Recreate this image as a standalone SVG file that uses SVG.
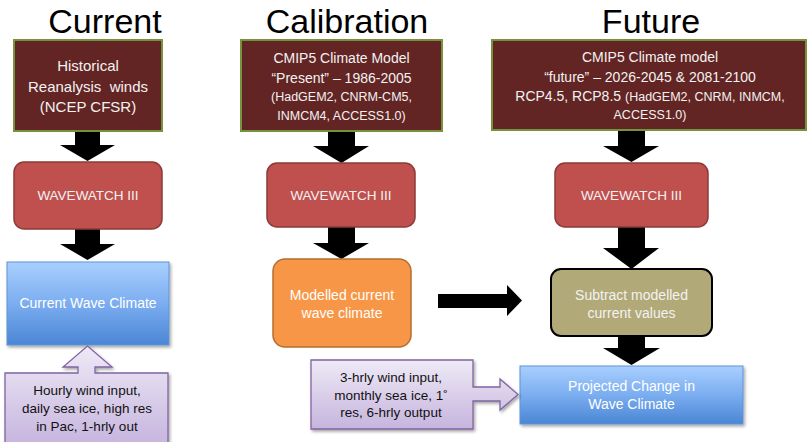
<svg xmlns="http://www.w3.org/2000/svg" width="808" height="442" viewBox="0 0 808 442">
<defs>
<linearGradient id="gBlue" x1="0" y1="0" x2="0" y2="1">
<stop offset="0" stop-color="#A9CFFF"/>
<stop offset="0.5" stop-color="#7BADF0"/>
<stop offset="1" stop-color="#4A86D4"/>
</linearGradient>
<linearGradient id="gPurp" x1="0" y1="0" x2="0" y2="1">
<stop offset="0" stop-color="#EEEAF6"/>
<stop offset="1" stop-color="#C6B4DE"/>
</linearGradient>
<filter id="sh" x="-10%" y="-10%" width="130%" height="140%">
<feDropShadow dx="1.5" dy="2" stdDeviation="1.5" flood-color="#000" flood-opacity="0.35"/>
</filter>
</defs>
<style>
.title{font-family:"Liberation Sans",Arial,sans-serif;font-size:34px;fill:#000;text-anchor:middle}
.t{font-family:"Liberation Sans",Arial,sans-serif;font-size:14px;fill:#F2F2F2;text-anchor:middle}
.s{font-size:12.5px}
.d{font-family:"Liberation Sans",Arial,sans-serif;font-size:13.5px;fill:#111;text-anchor:middle}
.src{fill:#632523;stroke:#76923C;stroke-width:2}
.ww{fill:#C0504D;stroke:#8C3A38;stroke-width:1.5}
.blue{fill:url(#gBlue);stroke:#5E93D6;stroke-width:1;filter:url(#sh)}
.purp{fill:url(#gPurp);stroke:#8064A2;stroke-width:1.3;filter:url(#sh)}
.arr{fill:#000}
</style>
<rect width="808" height="442" fill="#fff"/>

<g id="titles">
<text class="title" x="105" y="33">Current</text>
<text class="title" x="347" y="33">Calibration</text>
<text class="title" x="651" y="33">Future</text>
</g>

<g id="connectors">
<path class="arr" d="M75,131 H100 V145 H115 L87.5,161 L60,145 H75 Z"/>
<path class="arr" d="M75,229 H100 V244 H115 L87.5,260 L60,244 H75 Z"/>
<path class="arr" d="M328,131 H355 V146 H369 L341.5,163 L313,146 H328 Z"/>
<path class="arr" d="M328,227 H355 V243 H369 L341.5,259 L313,243 H328 Z"/>
<path class="arr" d="M438,294 H507 V285 L522,300.5 L507,316 V308 H438 Z"/>
<path class="arr" d="M618,130 H645 V146 H659 L631.5,162 L603,146 H618 Z"/>
<path class="arr" d="M618,227 H645 V248 H659 L631.5,269 L603,248 H618 Z"/>
<path class="arr" d="M618,336 H645 V348 H660 L631.5,365 L603,348 H618 Z"/>
</g>

<g id="hist">
<rect class="src" x="14" y="40" width="148" height="91"/>
<text class="t" style="font-size:15px" x="88" y="71">Historical</text>
<text class="t" style="font-size:15px" x="88" y="92" xml:space="preserve">Reanalysis  winds</text>
<text class="t" style="font-size:15px" x="88" y="112">(NCEP CFSR)</text>
</g>

<g id="cmipPresent">
<rect class="src" x="241" y="40" width="201" height="91"/>
<text class="t" x="341.5" y="63">CMIP5 Climate Model</text>
<text class="t" x="341.5" y="83">“Present” – 1986-2005</text>
<text class="t s" x="341.5" y="101">(HadGEM2, CNRM-CM5,</text>
<text class="t s" x="341.5" y="120">INMCM4, ACCESS1.0)</text>
</g>

<g id="cmipFuture">
<rect class="src" x="492" y="40" width="314" height="90"/>
<text class="t" x="650" y="62">CMIP5 Climate model</text>
<text class="t" x="650" y="82">“future” – 2026-2045 &amp; 2081-2100</text>
<text class="t" x="650" y="101">RCP4.5, RCP8.5 <tspan class="s">(HadGEM2, CNRM, INMCM,</tspan></text>
<text class="t s" x="650" y="119">ACCESS1.0)</text>
</g>

<g id="ww3Current">
<rect class="ww" x="14" y="162" width="148" height="67" rx="10"/>
<text class="t" style="font-size:13.5px" x="88" y="200">WAVEWATCH III</text>
</g>

<g id="ww3Calib">
<rect class="ww" x="267" y="163" width="148" height="64" rx="10"/>
<text class="t" style="font-size:13.5px" x="341" y="200">WAVEWATCH III</text>
</g>

<g id="ww3Future">
<rect class="ww" x="555" y="163" width="153" height="64" rx="10"/>
<text class="t" style="font-size:13.5px" x="631.5" y="200">WAVEWATCH III</text>
</g>

<g id="currentWave">
<rect class="blue" x="7" y="262" width="162" height="83"/>
<text class="t" fill="#fff" x="88" y="308" style="fill:#fff">Current Wave Climate</text>
</g>

<g id="modelled">
<rect x="273" y="259" width="138" height="88" rx="12" fill="#F79646" stroke="#B66D31" stroke-width="1.5"/>
<text class="t" style="fill:#fff" x="342" y="300">Modelled current</text>
<text class="t" style="fill:#fff" x="342" y="318">wave climate</text>
</g>

<g id="subtract">
<rect x="551" y="269" width="161" height="67" rx="10" fill="#B2A978" stroke="#000" stroke-width="2"/>
<text class="t" x="631.5" y="300">Subtract modelled</text>
<text class="t" x="631.5" y="318">current values</text>
</g>

<g id="projected">
<rect class="blue" x="520" y="366" width="223" height="58"/>
<text class="t" style="fill:#fff" x="631.5" y="391">Projected Change in</text>
<text class="t" style="fill:#fff" x="631.5" y="409">Wave Climate</text>
</g>

<g id="noteCurrent">
<path class="purp" d="M5,373 H78 V367 H63 L87.5,346 L112,367 H95 V373 H168 V446 H5 Z"/>
<text class="d" x="87" y="395">Hourly wind input,</text>
<text class="d" x="87" y="413">daily sea ice, high res</text>
<text class="d" x="87" y="431">in Pac, 1-hrly out</text>
</g>

<g id="noteFuture">
<path class="purp" d="M311,360 H473 V387 H500 V379 L518,394.5 L500,410 V401 H473 V429 H311 Z"/>
<text class="d" x="391" y="382">3-hrly wind input,</text>
<text class="d" x="391" y="400">monthly sea ice, 1˚</text>
<text class="d" x="391" y="417">res, 6-hrly output</text>
</g>
</svg>
